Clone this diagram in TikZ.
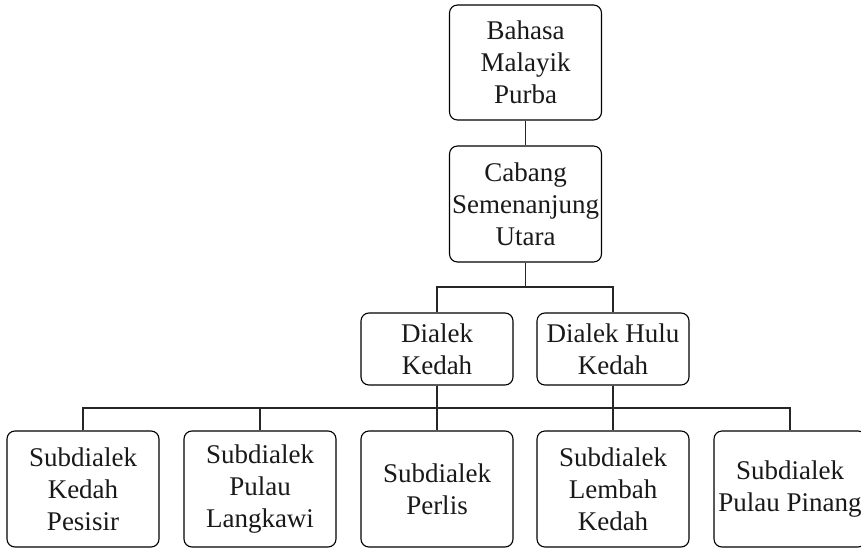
\documentclass[tikz,border=0pt]{standalone}
\usepackage{fontspec}
\setmainfont{Liberation Serif}
\tikzset{
  box/.style={draw, line width=1.1pt, rounded corners=8pt, minimum width=152pt, inner sep=0pt,
    align=center, font=\fontsize{27}{32}\selectfont, text=black!90},
  tallbox/.style={box, minimum height=116pt},
  shortbox/.style={box, minimum height=72pt},
  conn/.style={line width=1.1pt, black!85}
}
\begin{document}
\begin{tikzpicture}[x=1pt,y=-1pt]
\useasboundingbox (0,0) rectangle (861,548);
\node[tallbox, minimum height=115pt] (top) at (525.5,62.5) {Bahasa\\Malayik\\Purba};
\node[tallbox] (cabang) at (525.5,204) {Cabang\\Semenanjung\\Utara};
\node[shortbox] (dk) at (437,349) {Dialek\\Kedah};
\node[shortbox] (dhk) at (613,349) {Dialek Hulu\\Kedah};
\node[tallbox] (pesisir) at (83,489) {Subdialek\\Kedah\\Pesisir};
\node[tallbox] (langkawi) at (260,489) {Subdialek\\Pulau\\Langkawi};
\node[tallbox] (perlis) at (437,489) {Subdialek\\Perlis};
\node[tallbox] (lembah) at (613,489) {Subdialek\\Lembah\\Kedah};
\node[tallbox] (pinang) at (790,489) {Subdialek\\Pulau Pinang};
\coordinate (ha) at (525.5,287);
\coordinate (hb) at (437,408);
\draw[conn] (top) -- (cabang);
\draw[conn] (cabang.south) -- (ha);
\draw[conn] (dk.north) |- (ha) -| (dhk.north);
\draw[conn] (pesisir.north) |- (hb) -| (pinang.north);
\draw[conn] (langkawi.north) -- (langkawi.north |- hb);
\draw[conn] (dk.south) -- (perlis.north);
\draw[conn] (dhk.south) -- (lembah.north);
\end{tikzpicture}
\end{document}
